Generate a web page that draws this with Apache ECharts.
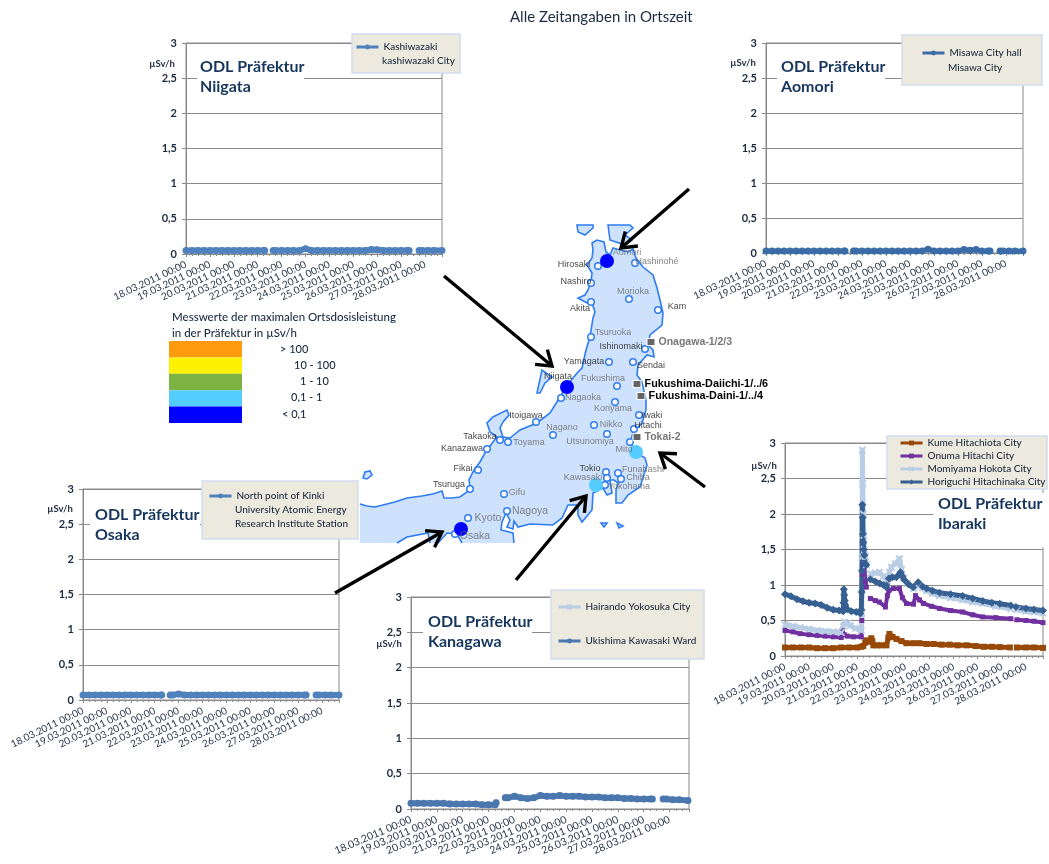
<!DOCTYPE html>
<html><head><meta charset="utf-8">
<style>html,body{margin:0;padding:0;background:#fff}#c{width:1049px;height:864px}</style>
<script src="https://cdn.jsdelivr.net/npm/echarts@6/dist/echarts.min.js"></script>
</head><body><div id="c"></div>
<script>
const tickLabels = ['18.03.2011 00:00','19.03.2011 00:00','20.03.2011 00:00','21.03.2011 00:00','22.03.2011 00:00','23.03.2011 00:00','24.03.2011 00:00','25.03.2011 00:00','26.03.2011 00:00','27.03.2011 00:00','28.03.2011 00:00'];
const hours = [0,6,12,18,24,30,36,42,48,54,60,66,72,78,79,83,87.5,90,96,102,108,114,120,126,132,138,144,150,156,162,168,174,180,186,192,198,204,210,216,222,224,228,234,237,243,249,257];
const kashiwazaki = [.05,.05,.05,.05,.05,.05,.05,.05,.05,.05,.05,.05,.05,.05,.05,null,.05,.05,.05,.05,.05,.05,.075,.05,.05,.05,.05,.05,.05,.05,.05,.05,.05,.065,.06,.05,.05,.05,.05,.05,.05,null,.05,.05,.05,.05,.05];
const misawa = [.03,.03,.03,.03,.03,.03,.03,.03,.03,.03,.03,.03,.03,.03,.03,null,.03,.03,.03,.03,.03,.03,.03,.03,.03,.03,.03,.03,.03,.055,.03,.03,.03,.03,.03,.05,.04,.05,.03,.03,.03,null,.03,.03,.03,.03,.03];
const kinki = [.07,.07,.07,.07,.07,.07,.07,.07,.07,.07,.07,.07,.07,.07,.07,null,.07,.07,.085,.07,.07,.07,.07,.07,.07,.07,.07,.07,.07,.07,.07,.07,.07,.07,.07,.07,.07,.07,.07,.07,.07,null,.07,.07,.07,.07,.07];
const hairando = [.09,.09,.09,.09,.09,.09,.09,.08,.08,.08,.08,.07,.07,.07,.1,null,.17,.17,.19,.17,.16,.17,.2,.19,.19,.19,.19,.18,.18,.17,.17,.17,.17,.16,.16,.16,.15,.15,.14,.14,.14,null,.15,.14,.14,.13,.13];
const ukishima = [.08,.08,.08,.08,.08,.08,.07,.07,.07,.07,.07,.06,.06,.06,.09,null,.16,.16,.18,.16,.15,.16,.19,.18,.18,.19,.18,.18,.18,.17,.17,.17,.16,.16,.16,.15,.15,.14,.14,.14,.14,null,.14,.14,.13,.13,.12];
const kume = [[0,.12],[8,.12],[16,.12],[24,.12],[32,.11],[40,.11],[48,.11],[56,.12],[64,.12],[72,.12],[76,.13],[78,.14],[80,.19],[81,.22],[83,null],[84,.2],[86,.25],[87,.21],[88,.15],[92,.15],[96,.15],[101,.15],[103,.26],[104,.31],[107,.27],[111,.24],[116,.21],[121,.18],[128,.18],[134,.18],[141,.17],[148,.17],[156,.16],[164,.16],[172,.15],[181,.15],[190,.14],[198,.13],[206,.13],[214,.125],[224,.12],[227,null],[231,.12],[240,.12],[248,.12],[257,.115]];
const onuma = [[0,.36],[8,.34],[15,.315],[24,.3],[32,.29],[40,.28],[48,.27],[56,.26],[57,.36],[59,.3],[62,.28],[68,.27],[76,.27],[76.5,.5],[77,1.15],[78,1.22],[79,1.3],[80,1.05],[81,.97],[83,null],[85,.81],[90,.78],[94,.76],[100,.69],[102,.85],[103.5,.92],[108,.95],[114,.95],[117,.82],[121,.74],[128,.73],[130,.85],[134,.79],[138,.74],[146,.7],[154,.67],[165,.64],[177,.62],[187,.58],[197,.55],[210,.54],[225,.525],[227,null],[231,.51],[240,.5],[248,.49],[257,.47]];
const momiyama = [[0,.44],[8,.42],[15,.4],[24,.38],[32,.36],[40,.35],[48,.34],[56,.33],[58,.42],[59,.48],[62,.46],[65,.43],[70,.39],[76,.36],[76.5,.6],[76.8,1.4],[77,2.9],[77.5,2.43],[78,2.0],[78.5,1.7],[79,1.5],[80,1.4],[81,1.28],[83,null],[85,1.16],[90,1.17],[94,1.18],[98,1.12],[101,1.07],[104,1.18],[106,1.25],[110,1.3],[114,1.37],[116,1.22],[118,1.1],[122,1.02],[128,.95],[133,1.0],[137,.96],[141,.92],[147,.88],[154,.85],[165,.82],[177,.79],[187,.76],[197,.74],[210,.7],[225,.665],[227,null],[231,.65],[240,.63],[248,.62],[257,.605]];
const horiguchi = [[0,.87],[6,.84],[12,.8],[18,.77],[24,.75],[30,.74],[36,.72],[42,.68],[48,.65],[54,.64],[58,.63],[58.3,.75],[58.6,.94],[59,.86],[59.5,.78],[60,.72],[62,.66],[66,.63],[71,.62],[75,.6],[76,.65],[76.4,.9],[76.7,1.2],[77,2.13],[77.3,1.95],[77.6,1.72],[78,1.6],[78.5,1.5],[79,1.42],[79.6,1.3],[81,1.28],[83,null],[85,1.08],[90,1.05],[94.5,1.02],[98,1],[101,.97],[103.5,1.09],[107,1.11],[111,1.11],[115,1.18],[117,1.12],[119,1.07],[123,1.01],[127.7,.97],[132.7,1.04],[137,.98],[141,.95],[147,.92],[154,.89],[165,.87],[177,.845],[187,.81],[197,.775],[206,.75],[214,.735],[225,.71],[227,null],[230,.69],[240,.67],[248,.655],[257,.64]];

const doseClasses = ['> 100','10 - 100','1 - 10','0,1 - 1','< 0,1'];
const doseColors = ['#FF9A0E','#FFF200','#7CB342','#55CCFF','#0000FF'];
const doseLabelX = [280,294,300,291,282];

// Map outline and places, in map units
const coast = [[360,504],[367,506],[375,507],[387,504],[395,502],[407,498],[422,496],[433,494],[442,491],[444,498],[452,498],[460,497],[467,492],[470,487],[469,480],[474,470],[480,462],[485,453],[493,442],[497,437],[490,432],[487,423],[493,417],[507,410],[509,415],[503,422],[500,428],[503,437],[510,438],[520,430],[537,423],[550,413],[560,397],[567,385],[578,372],[582,368],[586,350],[590,337],[593,318],[595,312],[592,303],[587,303],[578,298],[585,295],[588,290],[591,282],[592,273],[587,265],[592,258],[593,250],[592,243],[597,240],[604,242],[606,252],[610,255],[613,248],[620,250],[628,252],[633,249],[636,258],[643,267],[653,275],[657,288],[660,300],[663,313],[662,325],[650,335],[648,345],[653,350],[654,357],[647,355],[638,365],[637,375],[642,382],[646,400],[646,410],[642,423],[633,433],[630,443],[637,453],[645,458],[647,465],[640,487],[628,495],[622,503],[616,503],[616,490],[618,483],[614,480],[610,480],[612,493],[607,495],[603,488],[593,493],[592,510],[582,522],[578,515],[578,505],[568,505],[562,518],[553,525],[530,524],[518,527],[514,521],[513,529],[507,527],[510,520],[506,513],[502,522],[501,530],[513,533],[514,543]];
const bayEast = [[462,543],[457,534],[447,533],[438,543]];
const bayWest = [[430,543],[428,533],[407,537],[397,543]];
const islands = [[[537,393],[542,370],[552,377],[545,383],[540,393]],[[577,225],[578,232],[585,235],[593,228],[593,225]],[[608,225],[610,240],[625,245],[632,240],[625,235],[633,228],[630,225]],[[363,478],[365,472],[370,471],[372,475],[367,479]],[[601,523],[607,523],[604,527]],[[617,523],[623,526],[619,528]]];
const cityNames = ['Hirosaki','Hashinohé','Nashiro','Morioka','Akita','Kam','Tsuruoka','Ishinomaki','Yamagata','Sendai','Fukushima','Nagaoka','Koriyama','Iwaki','Hitachi','Nikko','Nagano','Utsunomiya','Itoigawa','Takaoka','Toyama','Kanazawa','Fikai','Tsuruga','Gifu','Nagoya','Kyoto','Tokio','Funabashi','Kawasaki','Chiba','Yokohama','Aomori','Niigata','Mito','Osaka'];
const cityPoints = [[598,266],[635,263],[591,283],[629,299],[591,302],[658,310],[591,337],[645,349],[609,362],[633,362],[617,386],[561,398],[615,402],[639,415],[634,429],[594,425],[553,435],[607,434],[536,422],[500,440],[508,442],[487,449],[478,470],[470,489],[504,494],[507,511],[468,518],[606,472],[618,473],[607,478],[621,479],[605,485],[607,261],[567,387],[630,442],[455,534]];
const cityLabels = [[574,265],[657,262],[576,282],[633,292],[580,309],[677,307],[613,333],[621,347],[584,362],[651,366],[603,379],[583,398],[613,409],[652,416],[648,426],[611,425],[562,428],[590,442],[526,416],[480,437],[529,443],[462,449],[463,469],[449,485],[517,493],[530,511],[488,518],[590,469],[643,470],[583,478],[638,478],[629,487],[627,253],[558,377],[624,450],[475,536]];
const darkCities = ['Hirosaki','Nashiro','Akita','Kam','Ishinomaki','Sendai','Iwaki','Hitachi','Niigata','Yamagata','Itoigawa','Takaoka','Kanazawa','Fikai','Tsuruga','Tokio'];
const largeCities = ['Nagoya','Kyoto','Osaka'];
const doseDots = [[607,261,'#0000FF'],[567,387,'#0000FF'],[461,529,'#0000FF'],[636,452,'#55CCFF'],[596,485,'#55CCFF']];
const plantNames = ['Onagawa-1/2/3','Fukushima-Daiichi-1/../6','Fukushima-Daini-1/../4','Tokai-2'];
const plantPoints = [[651,342],[637,384],[641,396],[637,437]];
const plantColors = ['#777','#000','#000','#777'];
const arrows = [[689,189,621,248],[444,276,552,366],[705,487,660,453],[516,580,586,496],[335,593,442,532]];

const FONT = 'Lato, "Open Sans", sans-serif';
const AXIS = '#8a8a8a', INK = '#1d2b3e';
const CROSS = 'path://M0 0L2 0L5 3L8 0L10 0L10 2L7 5L10 8L10 10L8 10L5 7L2 10L0 10L0 8L3 5L0 2L0 0Z';

const panels = [
  {name:'Niigata', grid:[186,43,256,211], rot:25, fs:10, unit:[162,64], titleAt:[200,57], white:[197,58,107,40], legendBox:[352,34,108,39], legendAt:[355,47], gap:14, extra:[[382,61,'kashiwazaki City']]},
  {name:'Aomori', grid:[766,43,257,210], rot:25, fs:10, unit:[743,63], titleAt:[781,57], white:[777,58,108,40], legendBox:[902,35,140,50], legendAt:[921,53], gap:14, extra:[[948,68,'Misawa City']]},
  {name:'Osaka', grid:[83,489,256,211], rot:26, fs:10, unit:[60,509], titleAt:[95,505], white:[90,505,110,40], legendBox:[202,481,156,58], legendAt:[208,496], gap:14, extra:[[235,510,'University Atomic Energy'],[235,524,'Research Institute Station']]},
  {name:'Kanagawa', grid:[411,597,278,212], rot:23, fs:10.4, unit:[389,644], titleAt:[428,612], white:[423,612,109,42], legendBox:[551,590,153,69], legendAt:[557,607], gap:34, extra:[]},
  {name:'Ibaraki', grid:[785,443,258,213], rot:27, fs:10, unit:[764,466], titleAt:[938,494], white:[933,493,113,54], legendBox:[887,436,160,53], legendAt:[899,443], gap:13, extra:[]}
];

function lineSeries(name, data, color, gridIndex, symbol, size, width){
  return {type:'line', name, data, xAxisIndex:gridIndex, yAxisIndex:gridIndex, z:3, clip:false,
    symbol, symbolSize:size, lineStyle:{color,width,join:'round'}, itemStyle:{color}, emphasis:{disabled:true}};
}
const zip = v => hours.map((h,i)=>[h,v[i]]);
const plots = [
  lineSeries('Kashiwazaki', zip(kashiwazaki), '#4F81BD', 0, 'circle', 7, 6),
  lineSeries('Misawa City hall', zip(misawa), '#3A6CA8', 1, 'circle', 7, 5),
  lineSeries('North point of Kinki', zip(kinki), '#4F81BD', 2, 'circle', 7, 6),
  lineSeries('Hairando Yokosuka City', zip(hairando), '#B9CDE5', 3, 'rect', 5, 4),
  lineSeries('Ukishima Kawasaki Ward', zip(ukishima), '#4A77AE', 3, 'circle', 7, 6),
  lineSeries('Kume Hitachiota City', kume, '#984807', 4, 'rect', 6, 5),
  lineSeries('Onuma Hitachi City', onuma, '#7030A0', 4, 'rect', 5, 4),
  lineSeries('Momiyama Hokota City', momiyama, '#B9CDE5', 4, CROSS, 7, 5),
  lineSeries('Horiguchi Hitachinaka City', horiguchi, '#366092', 4, 'diamond', 8, 5)
];
const legendGroups = [[0],[1],[2],[3,4],[5,6,7,8]];

const MAP = panels.length;
const option = {
  animation:false,
  backgroundColor:'#fff',
  grid: panels.map(p=>({left:p.grid[0],top:p.grid[1],width:p.grid[2],height:p.grid[3],show:true,borderColor:AXIS,borderWidth:1,backgroundColor:'transparent'}))
    .concat([{left:0,top:0,width:1049,height:864}]),
  xAxis: panels.map((p,i)=>({gridIndex:i,type:'value',min:0,max:i===3?258:257,interval:24,
      axisLine:{show:true,lineStyle:{color:AXIS}},axisTick:{show:true,length:3,lineStyle:{color:AXIS}},
      minorTick:{show:true,splitNumber:4,length:2,lineStyle:{color:AXIS}},splitLine:{show:false},
      axisLabel:{rotate:p.rot,margin:10,fontSize:p.fs,fontFamily:FONT,color:'#27364a',showMinLabel:true,showMaxLabel:true,hideOverlap:false,formatter:v=>tickLabels[v/24]||''}}))
    .concat([{gridIndex:MAP,type:'value',min:0,max:1049,show:false}]),
  yAxis: panels.map((p,i)=>({gridIndex:i,type:'value',min:0,max:3,interval:.5,
      axisLine:{show:true,lineStyle:{color:AXIS}},axisTick:{show:true,length:4,lineStyle:{color:AXIS}},
      splitLine:{show:true,lineStyle:{color:AXIS,width:1}},
      axisLabel:{margin:9,fontSize:11,fontWeight:700,fontFamily:FONT,color:INK,formatter:v=>String(v).replace('.',',')}}))
    .concat([{gridIndex:MAP,type:'value',min:0,max:864,inverse:true,show:false}]),
  title: panels.map(p=>({text:'ODL Präfektur\n'+p.name,left:p.titleAt[0],top:p.titleAt[1],z:8,padding:0,
      textStyle:{fontFamily:FONT,fontSize:16,fontWeight:700,lineHeight:20,color:'#17365D'}}))
    .concat([{text:'Alle Zeitangaben in Ortszeit',left:510,top:10,padding:0,z:8,textStyle:{fontFamily:FONT,fontSize:15,fontWeight:400,color:'#1a2a40'}}]),
  legend: panels.map((p,i)=>({left:p.legendAt[0],top:p.legendAt[1]-5,orient:'vertical',padding:0,itemWidth:22,itemHeight:6,itemGap:p.gap-10,z:9,
      data:legendGroups[i].map(k=>plots[k].name),selectedMode:false,lineStyle:{width:3},
      textStyle:{fontFamily:FONT,fontSize:10,fontWeight:500,color:INK}})),
  graphic: {elements:[].concat(
    panels.map(p=>({type:'rect',z:6,shape:{x:p.white[0],y:p.white[1],width:p.white[2],height:p.white[3]},style:{fill:'#fff'},silent:true})),
    panels.map(p=>({type:'rect',z:7,shape:{x:p.legendBox[0],y:p.legendBox[1],width:p.legendBox[2],height:p.legendBox[3]},style:{fill:'#ECE9DF',stroke:'#CFDDEF',lineWidth:1.5},silent:true})),
    panels.flatMap(p=>p.extra.map(e=>({type:'text',z:9,x:e[0],y:e[1],style:{text:e[2],fill:INK,font:'500 10px '+FONT,textVerticalAlign:'middle'},silent:true}))),
    panels.map(p=>({type:'text',z:9,x:p.unit[0],y:p.unit[1],style:{text:'µSv/h',fill:INK,font:'700 9.5px '+FONT,textAlign:'center',textVerticalAlign:'middle'},silent:true})),
    [['Messwerte der maximalen Ortsdosisleistung',172,317],['in der Präfektur in µSv/h',172,333]].map(t=>({type:'text',z:9,x:t[1],y:t[2],style:{text:t[0],fill:'#1a2a40',font:'500 11.5px '+FONT,textVerticalAlign:'middle'},silent:true}))
  )},
  series: [
    {type:'custom',coordinateSystem:'cartesian2d',xAxisIndex:MAP,yAxisIndex:MAP,z:1,silent:true,clip:false,
      data:[[0]],encode:{x:[],y:[]},
      renderItem:(params,api)=>{
        const c=p=>api.coord(p);
        const land=coast.concat(bayEast,bayWest,[[360,543]]).map(c);
        const stroke={fill:null,stroke:'#2E7CF2',lineWidth:1.6};
        return {type:'group',children:[
          {type:'polygon',shape:{points:land},style:{fill:'#CFE2FD'}},
          {type:'polyline',shape:{points:coast.map(c)},style:stroke},
          {type:'polyline',shape:{points:bayEast.map(c)},style:stroke},
          {type:'polyline',shape:{points:bayWest.map(c)},style:stroke},
          ...islands.map(isl=>({type:'polygon',shape:{points:isl.map(c)},style:{fill:'#CFE2FD',stroke:'#2E7CF2',lineWidth:1.6}}))
        ]};
      }},
    {type:'scatter',xAxisIndex:MAP,yAxisIndex:MAP,z:2,silent:true,symbolSize:6.5,
      itemStyle:{color:'#fff',opacity:1,borderColor:'#2E7CF2',borderWidth:1.5},data:cityPoints},
    {type:'scatter',xAxisIndex:MAP,yAxisIndex:MAP,z:3,silent:true,symbolSize:14,
      data:doseDots.map(d=>({value:[d[0],d[1]],itemStyle:{color:d[2],opacity:1}}))},
    {type:'scatter',xAxisIndex:MAP,yAxisIndex:MAP,z:4,silent:true,symbolSize:0,
      data:cityLabels.map((p,i)=>({value:p,label:{show:true,position:'inside',formatter:cityNames[i],
        fontFamily:'"Liberation Sans",Arial,sans-serif',
        fontSize:largeCities.includes(cityNames[i])?10.5:9,
        color:darkCities.includes(cityNames[i])?'#111':'#666'}}))},
    {type:'scatter',xAxisIndex:MAP,yAxisIndex:MAP,z:4,silent:true,symbol:'rect',symbolSize:[8,7],
      itemStyle:{color:'#666',opacity:1,borderColor:'#fff',borderWidth:1},
      data:plantPoints.map((p,i)=>({value:p,label:{show:true,position:'right',distance:3,formatter:plantNames[i],
        fontFamily:'"Liberation Sans",Arial,sans-serif',fontWeight:700,fontSize:plantColors[i]==='#000'?10.8:10.5,color:plantColors[i]}}))},
    {type:'custom',coordinateSystem:'cartesian2d',xAxisIndex:MAP,yAxisIndex:MAP,z:5,silent:true,clip:false,
      data:arrows,encode:{x:[0,2],y:[1,3]},
      renderItem:(params,api)=>{
        const a=api.coord([api.value(0),api.value(1)]), b=api.coord([api.value(2),api.value(3)]);
        const ang=Math.atan2(b[1]-a[1],b[0]-a[0]), h=17, s=.6;
        const l=[b[0]-h*Math.cos(ang-s),b[1]-h*Math.sin(ang-s)], r=[b[0]-h*Math.cos(ang+s),b[1]-h*Math.sin(ang+s)];
        const st={fill:null,stroke:'#000',lineWidth:3.4};
        return {type:'group',children:[
          {type:'polyline',shape:{points:[a,b]},style:st},
          {type:'polyline',shape:{points:[l,b,r]},style:st}]};
      }},
    {type:'custom',coordinateSystem:'cartesian2d',xAxisIndex:MAP,yAxisIndex:MAP,z:4,silent:true,
      data:doseClasses.map((t,i)=>[i]),encode:{x:[],y:[]},
      renderItem:(params,api)=>{
        const i=api.value(0), p=api.coord([169,341+i*16.4]), q=api.coord([242,341+(i+1)*16.4]), t=api.coord([doseLabelX[i],349+i*16.3]);
        return {type:'group',children:[
          {type:'rect',shape:{x:p[0],y:p[1],width:q[0]-p[0],height:q[1]-p[1]},style:{fill:doseColors[i]}},
          {type:'text',x:t[0],y:t[1],style:{text:doseClasses[i],fill:'#1a2a40',font:'500 11px '+FONT,verticalAlign:'middle'}}]};
      }}
  ].concat(plots)
};
echarts.init(document.getElementById('c'),null,{renderer:'canvas'}).setOption(option);
</script></body></html>
